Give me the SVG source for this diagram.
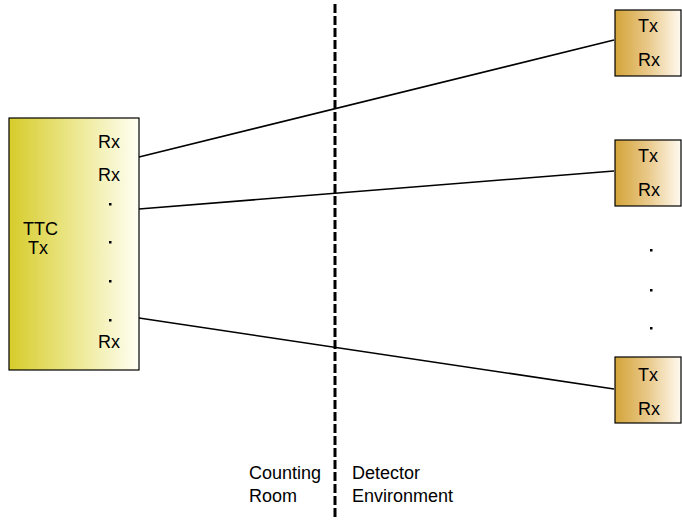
<svg xmlns="http://www.w3.org/2000/svg" width="682" height="520" viewBox="0 0 682 520">
  <defs>
    <linearGradient id="ttcFill" x1="0" y1="0" x2="1" y2="0">
      <stop offset="0" stop-color="#d6cc2a"/>
      <stop offset="0.5" stop-color="#ece78e"/>
      <stop offset="1" stop-color="#fffff4"/>
    </linearGradient>
    <linearGradient id="feFill" x1="0" y1="0" x2="1" y2="0">
      <stop offset="0" stop-color="#d4a43a"/>
      <stop offset="0.5" stop-color="#e9c98a"/>
      <stop offset="1" stop-color="#fffaf0"/>
    </linearGradient>
    <style>
      .box { stroke: #000; stroke-width: 1.2; }
      .lbl { font-family: "Liberation Sans", Arial, sans-serif; font-size: 18px; fill: #000; }
      .cap { font-family: "Liberation Sans", Arial, sans-serif; font-size: 18px; fill: #000; }
      .link { stroke: #000; stroke-width: 1.6; fill: none; }
      .dot { fill: #000; }
    </style>
  </defs>

  <!-- Counting room / detector boundary -->
  <line x1="335" y1="4" x2="335" y2="520" stroke="#000" stroke-width="3" stroke-dasharray="9 3"/>

  <!-- Fibre links -->
  <g id="connectors">
    <line class="link" x1="139" y1="157" x2="614" y2="40"/>
    <line class="link" x1="139" y1="209" x2="614" y2="171"/>
    <line class="link" x1="139" y1="318" x2="614" y2="389"/>
  </g>

  <!-- TTC transmitter -->
  <g id="ttc">
    <rect class="box" x="9" y="118" width="130" height="252" fill="url(#ttcFill)"/>
    <text class="lbl" x="23" y="235">TTC</text>
    <text class="lbl" x="28" y="254">Tx</text>
    <text class="lbl" x="98" y="148">Rx</text>
    <text class="lbl" x="98" y="181">Rx</text>
    <rect class="dot" x="109" y="203" width="2.5" height="2.5"/>
    <rect class="dot" x="109" y="241" width="2.5" height="2.5"/>
    <rect class="dot" x="109" y="280" width="2.5" height="2.5"/>
    <rect class="dot" x="109" y="319" width="2.5" height="2.5"/>
    <text class="lbl" x="98" y="348">Rx</text>
  </g>

  <!-- Front-end transceivers -->
  <g id="fe1">
    <rect class="box" x="615" y="10" width="66" height="66" fill="url(#feFill)"/>
    <text class="lbl" x="638" y="32">Tx</text>
    <text class="lbl" x="638" y="66">Rx</text>
  </g>
  <g id="fe2">
    <rect class="box" x="615" y="140" width="66" height="66" fill="url(#feFill)"/>
    <text class="lbl" x="638" y="162">Tx</text>
    <text class="lbl" x="638" y="196">Rx</text>
  </g>
  <g id="fe-dots">
    <rect class="dot" x="650" y="249" width="2.5" height="2.5"/>
    <rect class="dot" x="650" y="289" width="2.5" height="2.5"/>
    <rect class="dot" x="650" y="327" width="2.5" height="2.5"/>
  </g>
  <g id="fe3">
    <rect class="box" x="615" y="357" width="66" height="66" fill="url(#feFill)"/>
    <text class="lbl" x="638" y="381">Tx</text>
    <text class="lbl" x="638" y="415">Rx</text>
  </g>

  <!-- Region captions -->
  <g id="captions">
    <text class="cap" x="249" y="479">Counting</text>
    <text class="cap" x="249" y="502">Room</text>
    <text class="cap" x="352" y="479">Detector</text>
    <text class="cap" x="352" y="502">Environment</text>
  </g>
</svg>
